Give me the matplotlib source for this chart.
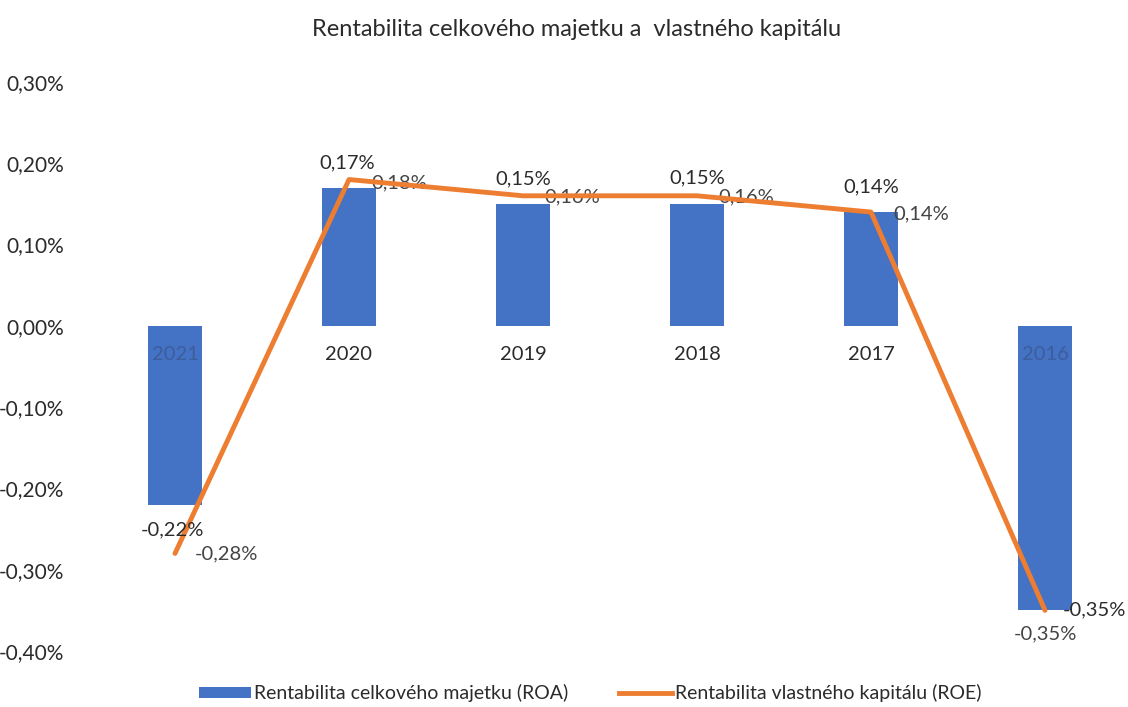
import matplotlib
matplotlib.use("Agg")
import matplotlib.pyplot as plt
from matplotlib.lines import Line2D
from matplotlib.patches import Patch

years = ["2021", "2020", "2019", "2018", "2017", "2016"]
roa = [-0.22, 0.17, 0.15, 0.15, 0.14, -0.35]
roe = [-0.28, 0.18, 0.16, 0.16, 0.14, -0.35]
yticks = [0.30, 0.20, 0.10, 0.00, -0.10, -0.20, -0.30, -0.40]

plt.rcParams['font.family'] = ['Lato', 'DejaVu Sans']
TXT = "#2b2b2b"
BLUE = "#4472C4"
ORANGE = "#ED7D31"

fig = plt.figure(figsize=(11.28, 7.07), dpi=100)
ax = fig.add_axes([88/1128, 1-651/707, 1044/1128, (651-82)/707])
x = list(range(len(years)))

ax.bar(x, roa, width=0.31, color=BLUE, zorder=2)
ax.plot(x, roe, color=ORANGE, lw=3.5, zorder=4, solid_capstyle='round')

ax.set_xlim(-0.5, 5.5)
ax.set_ylim(-0.40, 0.30)
for s in ax.spines.values():
    s.set_visible(False)
ax.set_xticks([])
ax.set_yticks(yticks)
ax.set_yticklabels([f"{v:.2f}%".replace(".", ",") for v in yticks])
ax.tick_params(axis='y', length=0, labelsize=15, labelcolor=TXT, pad=17)

def fmt(v):
    return f"{v:.2f}%".replace(".", ",")

FS = 14.5

# category labels near zero line
for i, y in enumerate(years):
    inside = roa[i] < 0
    ax.annotate(y, (i, 0), xytext=(0, -29), textcoords='offset pixels',
                ha='center', va='center', fontsize=FS,
                color="#3d5d9c" if inside else TXT, zorder=3)

# ROA labels
roa_off = [(-3, -25), (-2, 25), (0, 25), (0, 26), (0, 25), (49, 0)]
for i, v in enumerate(roa):
    dx, dy = roa_off[i]
    ax.annotate(fmt(v), (i, v), xytext=(dx, dy), textcoords='offset pixels',
                ha='center', va='center', fontsize=FS, color=TXT, zorder=5)

# ROE labels
roe_off = [(51, 0), (50, -3), (49, -1), (49, -1), (50, -2), (0, -24)]
for i, v in enumerate(roe):
    dx, dy = roe_off[i]
    ax.annotate(fmt(v), (i, v), xytext=(dx, dy), textcoords='offset pixels',
                ha='center', va='center', fontsize=FS, color="#444444", zorder=3)

fig.text(577/1128, 1-30/707, "Rentabilita celkového majetku a  vlastného kapitálu",
         ha='center', va='center', fontsize=17, color=TXT)

handles = [Patch(facecolor=BLUE, edgecolor='none'),
           Line2D([0], [0], color=ORANGE, lw=3.5)]
leg = fig.legend(handles, ["Rentabilita celkového majetku (ROA)", "Rentabilita vlastného kapitálu (ROE)"],
                 loc='center', bbox_to_anchor=(590/1128, 1-693/707), ncol=2, frameon=False,
                 fontsize=14, handlelength=2.7, handleheight=0.5, columnspacing=2.6,
                 handletextpad=0.15, labelcolor=TXT)

fig.savefig("out.png", dpi=100)
